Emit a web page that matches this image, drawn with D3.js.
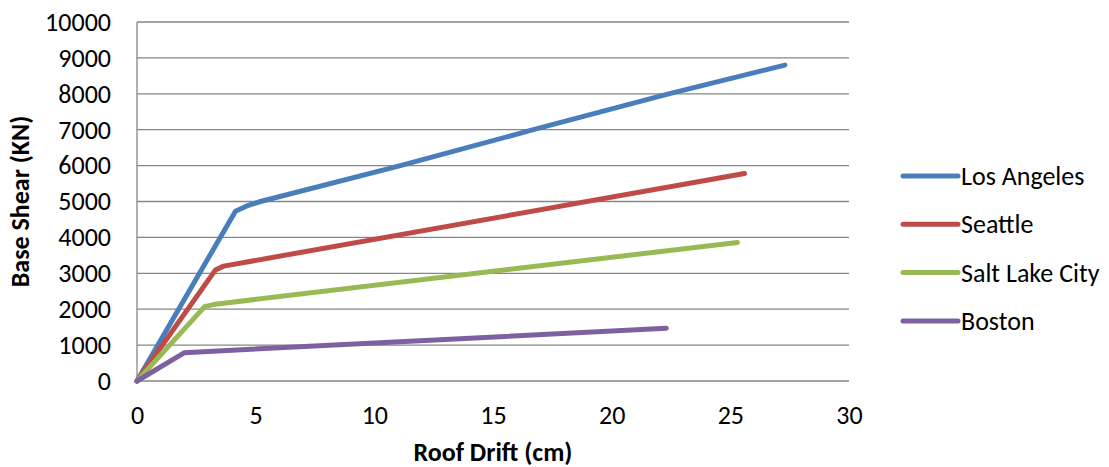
<!DOCTYPE html>
<html>
<head>
<meta charset="utf-8">
<script src="https://cdn.jsdelivr.net/npm/d3@7"></script>
<style>
  body { margin: 0; background: #fff; }
  text { font-family: Carlito, "Open Sans", sans-serif; fill: #000; }
</style>
</head>
<body>
<div id="chart"></div>
<script>
var seriesNames = ["Los Angeles", "Seattle", "Salt Lake City", "Boston"];
var seriesColors = ["#4a7ebb", "#be4b48", "#98b954", "#7d60a0"];

// roof drift (cm), base shear (KN)
var losAngeles = [[0, 0], [4.15, 4730], [4.6, 4870], [5.2, 5000], [11.1, 6000], [16.7, 7000], [22.4, 8000], [27.3, 8800]];
var seattle = [[0, 0], [3.3, 3090], [3.65, 3200], [25.6, 5780]];
var saltLakeCity = [[0, 0], [2.85, 2070], [3.3, 2140], [25.3, 3860]];
var boston = [[0, 0], [2.0, 790], [22.3, 1470]];

var xTicks = [0, 5, 10, 15, 20, 25, 30];
var yTicks = [0, 1000, 2000, 3000, 4000, 5000, 6000, 7000, 8000, 9000, 10000];

function lineChart() {
    var width = 1109, height = 467;
    var margin = {top: 22, right: 260, bottom: 86, left: 137};
    var innerW = 849 - margin.left, innerH = 381 - margin.top;

    var svg = d3.select("#chart").append("svg")
        .attr("width", width)
        .attr("height", height);

    var g = svg.append("g")
        .attr("transform", "translate(" + margin.left + "," + margin.top + ")");

    var x = d3.scaleLinear().domain([0, 30]).range([0, innerW]);
    var y = d3.scaleLinear().domain([0, 10000]).range([innerH, 0]);

    // horizontal gridlines
    g.selectAll(".grid")
        .data(yTicks)
        .enter().append("line")
        .attr("x1", 0).attr("x2", innerW)
        .attr("y1", function(d) { return y(d); })
        .attr("y2", function(d) { return y(d); })
        .attr("stroke", "#868686")
        .attr("stroke-width", 1.3);

    g.append("line")
        .attr("x1", 0).attr("x2", 0)
        .attr("y1", 0).attr("y2", innerH)
        .attr("stroke", "#868686")
        .attr("stroke-width", 1.3);

    var yAxis = g.append("g")
        .call(d3.axisLeft(y).tickValues(yTicks).tickSize(0).tickPadding(26).tickFormat(d3.format("d")));
    yAxis.select(".domain").remove();
    yAxis.selectAll("text").style("font-size", "26px").attr("fill", "#000");

    var xAxis = g.append("g")
        .attr("transform", "translate(0," + innerH + ")")
        .call(d3.axisBottom(x).tickValues(xTicks).tickSize(0).tickPadding(25));
    xAxis.select(".domain").remove();
    xAxis.selectAll("text").style("font-size", "26px").attr("fill", "#000");

    var line = d3.line()
        .x(function(d) { return x(d[0]); })
        .y(function(d) { return y(d[1]); });

    var allSeries = [losAngeles, seattle, saltLakeCity, boston];

    g.selectAll(".series")
        .data(allSeries)
        .enter().append("path")
        .attr("class", "series")
        .attr("d", line)
        .attr("fill", "none")
        .attr("stroke", function(d, i) { return seriesColors[i]; })
        .attr("stroke-width", 5)
        .attr("stroke-linejoin", "round")
        .attr("stroke-linecap", "round");

    // axis titles
    svg.append("text")
        .attr("x", margin.left + innerW / 2)
        .attr("y", 461)
        .attr("text-anchor", "middle")
        .style("font-size", "26px")
        .style("font-weight", "bold")
        .text("Roof Drift (cm)");

    svg.append("text")
        .attr("transform", "translate(29," + (margin.top + innerH / 2) + ") rotate(-90)")
        .attr("text-anchor", "middle")
        .style("font-size", "26px")
        .style("font-weight", "bold")
        .text("Base Shear (KN)");

    // legend
    var legend = svg.selectAll(".legend")
        .data(seriesNames)
        .enter().append("g")
        .attr("transform", function(d, i) { return "translate(903," + (176 + i * 48.3) + ")"; });

    legend.append("line")
        .attr("x1", 0).attr("x2", 55)
        .attr("stroke", function(d, i) { return seriesColors[i]; })
        .attr("stroke-width", 5)
        .attr("stroke-linecap", "round");

    legend.append("text")
        .attr("x", 58)
        .attr("dy", "0.35em")
        .style("font-size", "26px")
        .text(function(d) { return d; });
}

lineChart();
</script>
</body>
</html>
